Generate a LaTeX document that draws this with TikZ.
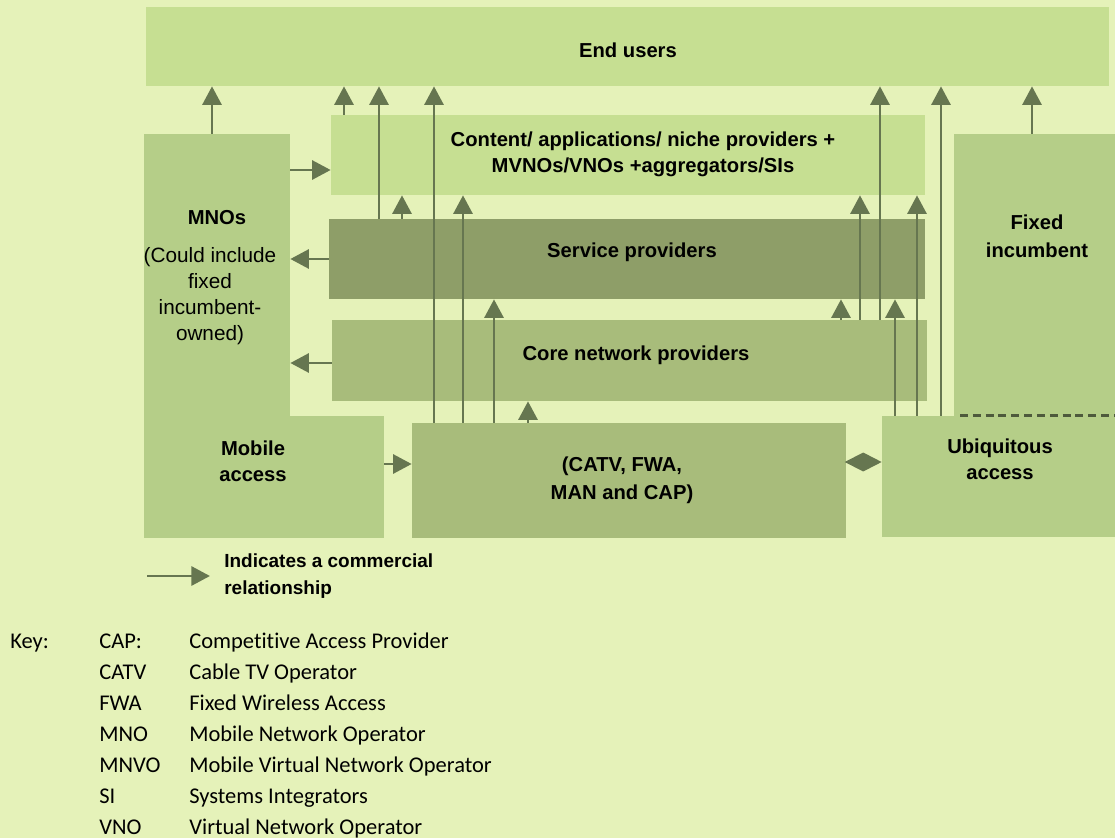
\documentclass[tikz,border=0pt]{standalone}
\usepackage{fontspec}
\setmainfont{Liberation Sans}
\newfontfamily\keyfont[Ligatures = NoCommon]{Carlito}
\usetikzlibrary{arrows.meta,fit}

\definecolor{bg}{HTML}{E5F2B9}
\definecolor{boxlight}{HTML}{C6DF92}
\definecolor{boxmid}{HTML}{B5CE88}
\definecolor{boxcore}{HTML}{A8BC7B}
\definecolor{boxdark}{HTML}{8E9E68}
\definecolor{arr}{HTML}{667650}
\definecolor{cut}{HTML}{4E5A3C}

\begin{document}
\begin{tikzpicture}[
    x = 0.02cm, y = -0.02cm,
    box/.style = {fill = #1, draw = none, inner sep = 0pt},
    lbl/.style = {font = \fontsize{11.5}{14.8}\selectfont\bfseries, align = center, inner sep = 0pt},
    note/.style = {font = \fontsize{11.8}{14.8}\selectfont, align = center, inner sep = 0pt},
    rel/.style = {draw = arr, line width = 1.5pt, -{Triangle[width = 10.8pt, length = 10.5pt]}},
    cutline/.style = {draw = cut, line width = 1.5pt, dash pattern = on 4.5pt off 2.8pt},
    keytext/.style = {font = \keyfont\fontsize{12.8}{15}\selectfont, anchor = base west, inner sep = 0pt},
  ]
  \fill[bg] (0,0) rectangle (1115,838);
  \useasboundingbox (0,0) rectangle (1115,838);

  % market layers
  \foreach \n/\c/\xa/\ya/\xb/\yb in {users/boxlight/146/7/1109/86,
      content/boxlight/331/115/925/195, service/boxdark/329/219/925/299,
      core/boxcore/332/320/927/401, mno/boxmid/144/134/290/538,
      mobile/boxmid/144/416/384/538, fixed/boxmid/954/134/1115/416,
      ubiq/boxmid/882/416/1115/537, catv/boxcore/412/423/846/538}
    \node[box = \c, fit = {(\xa,\ya) (\xb,\yb)}] (\n) {};

  \draw[cutline] (ubiq.north -| 960,0) -- (ubiq.north east);

  \node[lbl] (users-l) at (628,50) {End users};
  \node[lbl] (content-l) at (643,154) {Content/ applications/ niche providers +\\MVNOs/VNOs +aggregators/SIs};
  \node[lbl] (service-l) at (632,252) {Service providers};
  \node[lbl] (core-l) at (636,355) {Core network providers};
  \node[lbl, font = \fontsize{11.5}{16}\selectfont\bfseries] (catv-l) at (622,480) {(CATV, FWA,\\MAN and CAP)};
  \node[lbl] (mno-l) at (217,218) {MNOs};
  \node[note] (mno-n) at (210,296) {(Could include\\fixed\\incumbent-\\owned)};
  \node[lbl] (mobile-l) at (253,461) {Mobile\\access};
  \node[lbl, font = \fontsize{11.5}{16}\selectfont\bfseries] (fixed-l) at (1037,236) {Fixed\\incumbent};
  \node[lbl] (ubiq-l) at (1000,459) {Ubiquitous\\access};

  % commercial relationships
  \foreach \x/\a/\b in {212/mno/users, 344/content/users, 379/service/users,
      434/catv/users, 402/service/content, 463/catv/content, 494/catv/service,
      528/catv/core, 880/core/users, 941/ubiq/users, 1032/fixed/users,
      860/core/content, 917/ubiq/content, 841/core/service, 895/ubiq/service}
    \draw[rel] (\a.north -| \x,0) -- (\b.south -| \x,0);

  \draw[rel] (mno.east |- 0,170) -- (content.west |- 0,170);
  \draw[rel] (service.west) -- (service.west -| mno.east);
  \draw[rel] (core.west |- 0,363) -- (mno.east |- 0,363);
  \draw[rel] (mobile.east |- 0,464) -- (catv.west |- 0,464);
  \draw[draw = arr, line width = 1.3pt, -{Diamond[width = 10.8pt, length = 21pt]}]
    (catv.east |- 0,462) -- (ubiq.west |- 0,462);

  % legend and key
  \coordinate (key-a) at (147,574);
  \node[font = \fontsize{10.8}{15.3}\selectfont\bfseries, align = left, anchor = west, inner sep = 0pt]
    (key-l) at (224,576) {Indicates a commercial\\relationship};
  \draw[rel] (key-a |- key-l.west) -- ([xshift = -8pt]key-l.west);

  \node[keytext] (key-h) at (10,648) {Key:};
  \foreach \ab/\ds [count = \i from 0] in {CAP:/Competitive Access Provider,
      CATV/Cable TV Operator, FWA/Fixed Wireless Access, MNO/Mobile Network Operator,
      MNVO/Mobile Virtual Network Operator, SI/Systems Integrators,
      VNO/Virtual Network Operator} {
    \node[keytext] (ab\i) at (99,648+31*\i) {\ab};
    \node[keytext] (ds\i) at (189,648+31*\i) {\ds};
  }
\end{tikzpicture}
\end{document}
